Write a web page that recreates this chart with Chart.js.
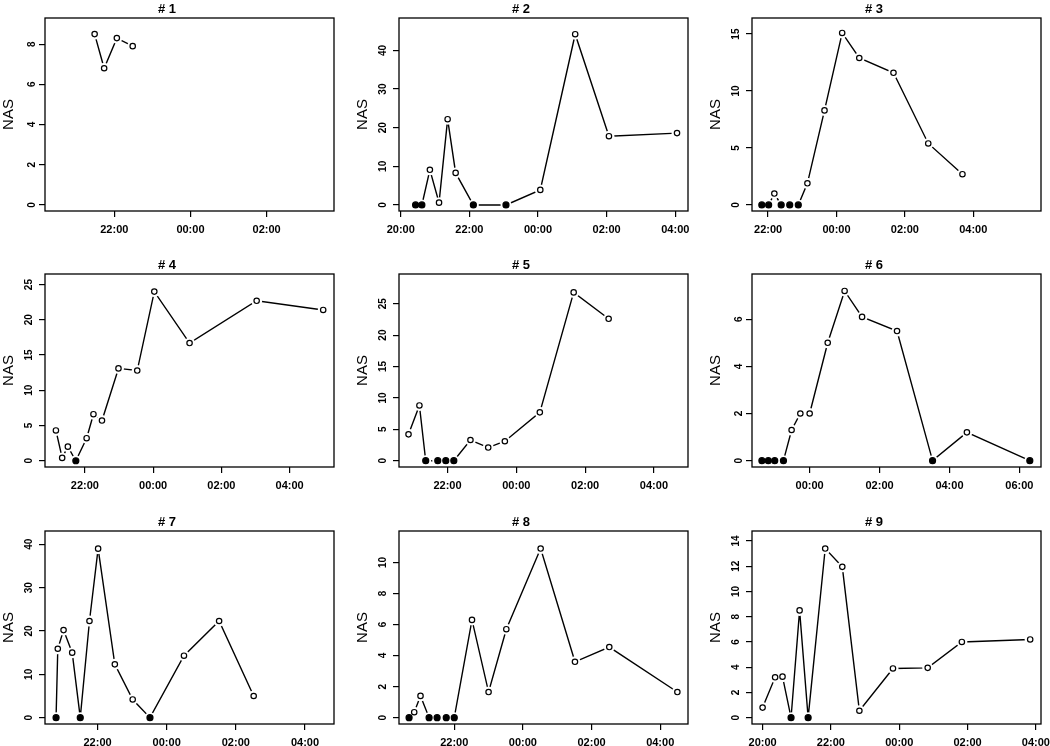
<!DOCTYPE html>
<html>
<head>
<meta charset="utf-8">
<script src="https://cdn.jsdelivr.net/npm/chart.js@4.4.1/dist/chart.umd.min.js"></script>
<style>
  body { margin: 0; background: #fff; overflow: hidden; }
  #wrap { position: relative; width: 1050px; height: 746px; }
  #wrap canvas { position: absolute; }
</style>
</head>
<body>
<div id="wrap"></div>
<script>
// sampling times (HH:MM, after midnight = next day) and NAS values per subject
const p1Time = ['21:29', '21:44', '22:04', '22:29'];
const p1Nas = [8.5, 6.8, 8.3, 7.9];

const p2Time = ['20:26', '20:37', '20:51', '21:07', '21:22', '21:36', '22:07', '23:04', '00:04', '01:05', '02:04', '04:03'];
const p2Nas = [0, 0, 9.1, 0.6, 22.2, 8.3, 0, 0, 3.9, 44.2, 17.8, 18.6];

const p3Time = ['21:49', '22:01', '22:11', '22:23', '22:38', '22:53', '23:09', '23:39', '00:10', '00:40', '01:40', '02:41', '03:41'];
const p3Nas = [0, 0, 1.0, 0, 0, 0, 1.9, 8.3, 15.1, 12.9, 11.6, 5.4, 2.7];

const p4Time = ['21:09', '21:20', '21:30', '21:44', '22:03', '22:15', '22:30', '22:59', '23:32', '00:02', '01:04', '03:02', '04:59'];
const p4Nas = [4.3, 0.4, 2.0, 0, 3.2, 6.6, 5.7, 13.1, 12.8, 24.0, 16.7, 22.7, 21.4];

const p5Time = ['20:52', '21:11', '21:22', '21:43', '21:57', '22:11', '22:40', '23:11', '23:40', '00:41', '01:40', '02:41'];
const p5Nas = [4.2, 8.8, 0, 0, 0, 0, 3.3, 2.1, 3.1, 7.7, 26.8, 22.6];

const p6Time = ['22:38', '22:49', '23:00', '23:15', '23:29', '23:44', '00:00', '00:31', '01:00', '01:30', '02:30', '03:31', '04:30', '06:18'];
const p6Nas = [0, 0, 0, 0, 1.3, 2.0, 2.0, 5.0, 7.2, 6.1, 5.5, 0, 1.2, 0];

const p7Time = ['20:48', '20:51', '21:01', '21:16', '21:30', '21:46', '22:01', '22:30', '23:01', '23:31', '00:30', '01:31', '02:31'];
const p7Nas = [0, 15.9, 20.2, 15.0, 0, 22.3, 39.0, 12.3, 4.2, 0, 14.3, 22.3, 5.0];

const p8Time = ['20:41', '20:50', '21:01', '21:16', '21:30', '21:46', '22:00', '22:31', '23:00', '23:31', '00:31', '01:31', '02:31', '04:30'];
const p8Nas = [0, 0.35, 1.4, 0, 0, 0, 0, 6.3, 1.65, 5.7, 10.9, 3.6, 4.55, 1.65];

const p9Time = ['20:00', '20:22', '20:35', '20:50', '21:05', '21:20', '21:50', '22:20', '22:50', '23:49', '00:50', '01:50', '03:50'];
const p9Nas = [0.8, 3.2, 3.25, 0, 8.5, 0, 13.4, 11.95, 0.55, 3.9, 3.95, 6.0, 6.2];

// tick labels
const xTicksA = ['22:00', '00:00', '02:00'];
const xTicksB = ['20:00', '22:00', '00:00', '02:00', '04:00'];
const xTicksC = ['22:00', '00:00', '02:00', '04:00'];
const xTicksD = ['00:00', '02:00', '04:00', '06:00'];
const p1YTicks = [0, 2, 4, 6, 8];
const p2YTicks = [0, 10, 20, 30, 40];
const p3YTicks = [0, 5, 10, 15];
const p4YTicks = [0, 5, 10, 15, 20, 25];
const p6YTicks = [0, 2, 4, 6];
const p8YTicks = [0, 2, 4, 6, 8, 10];
const p9YTicks = [0, 2, 4, 6, 8, 10, 12, 14];

function toHours(s) {
    const [h, m] = s.split(':').map(Number);
    let v = h + m / 60;
    if (h < 12) v += 24;
    return v;
}

function fmtHour(v) {
    const h = Math.round(v) % 24;
    return String(h).padStart(2, '0') + ':00';
}

const panels = [
    { title: '# 1', time: p1Time, nas: p1Nas, xt: xTicksA, yt: p1YTicks, x: [20.18, 27.77], y: [-0.30, 9.30] },
    { title: '# 2', time: p2Time, nas: p2Nas, xt: xTicksB, yt: p2YTicks, x: [19.95, 28.37], y: [-1.56, 48.4] },
    { title: '# 3', time: p3Time, nas: p3Nas, xt: xTicksC, yt: p3YTicks, x: [21.53, 29.98], y: [-0.53, 16.41] },
    { title: '# 4', time: p4Time, nas: p4Nas, xt: xTicksC, yt: p4YTicks, x: [20.83, 29.30], y: [-0.89, 26.5] },
    { title: '# 5', time: p5Time, nas: p5Nas, xt: xTicksC, yt: p4YTicks, x: [20.59, 28.99], y: [-1.0, 29.73] },
    { title: '# 6', time: p6Time, nas: p6Nas, xt: xTicksD, yt: p6YTicks, x: [22.35, 30.62], y: [-0.27, 7.92] },
    { title: '# 7', time: p7Time, nas: p7Nas, xt: xTicksC, yt: p2YTicks, x: [20.48, 28.84], y: [-1.46, 43.07] },
    { title: '# 8', time: p8Time, nas: p8Nas, xt: xTicksC, yt: p8YTicks, x: [20.39, 28.81], y: [-0.41, 12.03] },
    { title: '# 9', time: p9Time, nas: p9Nas, xt: xTicksB, yt: p9YTicks, x: [19.69, 28.15], y: [-0.5, 14.79] }
];

// layout of the 3x3 grid (plot box positions)
const boxLeft = [45, 399, 752];
const boxTop = [18, 274, 531];
const AXW = 45, AXH = 32, TTL = 24, PADR = 12, BW = 289, BH = 193;
const FONT = "'Liberation Sans', Arial, sans-serif";

const boxPlugin = {
    id: 'box',
    afterDraw(chart) {
        const { ctx, chartArea: a } = chart;
        ctx.save();
        ctx.strokeStyle = '#000';
        ctx.lineWidth = 1.3;
        ctx.strokeRect(a.left, a.top, a.right - a.left, a.bottom - a.top);
        ctx.restore();
    }
};

const wrap = document.getElementById('wrap');

panels.forEach(function(p, i) {
    const col = i % 3, row = Math.floor(i / 3);
    const canvas = document.createElement('canvas');
    canvas.width = AXW + BW + PADR;
    canvas.height = TTL + BH + AXH;
    canvas.style.left = (boxLeft[col] - AXW) + 'px';
    canvas.style.top = (boxTop[row] - TTL) + 'px';
    wrap.appendChild(canvas);

    const pts = p.time.map((t, k) => ({ x: toHours(t), y: p.nas[k] }));
    const xVals = p.xt.map(toHours);

    new Chart(canvas.getContext('2d'), {
        type: 'line',
        data: {
            datasets: [
                { data: pts, borderColor: '#000', borderWidth: 1.4, pointRadius: 0, fill: false, order: 3 },
                // white halo so the lines stop short of the markers, like R's type = "b"
                { data: pts, showLine: false, pointRadius: 5.5, pointBorderWidth: 0, pointBorderColor: '#fff', pointBackgroundColor: '#fff', order: 2 },
                {
                    data: pts, showLine: false,
                    pointRadius: p.nas.map(v => v === 0 ? 3 : 2.7),
                    pointBorderWidth: 1.2, pointBorderColor: '#000',
                    pointBackgroundColor: p.nas.map(v => v === 0 ? '#000' : '#fff'),
                    order: 1
                }
            ]
        },
        options: {
            responsive: false,
            animation: false,
            devicePixelRatio: 1,
            events: [],
            layout: { padding: { left: 0, right: PADR, top: 0, bottom: 0 } },
            plugins: {
                legend: { display: false },
                tooltip: { enabled: false },
                title: {
                    display: true, text: p.title, color: '#000',
                    font: { family: FONT, size: 13, weight: 'bold' },
                    padding: { top: 8, bottom: 0.4 }
                }
            },
            scales: {
                x: {
                    type: 'linear', min: p.x[0], max: p.x[1], bounds: 'data',
                    afterBuildTicks: s => { s.ticks = xVals.map(v => ({ value: v })); },
                    afterFit: s => { s.height = AXH; s.paddingLeft = 0; s.paddingRight = 0; },
                    border: { display: false },
                    grid: { drawOnChartArea: false, drawTicks: true, tickLength: 6, color: '#000', lineWidth: 1.2 },
                    ticks: {
                        callback: v => fmtHour(v), color: '#000', padding: 6,
                        maxRotation: 0, autoSkip: false,
                        font: { family: FONT, size: 11, weight: 'bold' }
                    }
                },
                y: {
                    type: 'linear', min: p.y[0], max: p.y[1], bounds: 'data',
                    afterBuildTicks: s => { s.ticks = p.yt.map(v => ({ value: v })); },
                    afterFit: s => { s.width = AXW; s.paddingTop = 0; s.paddingBottom = 0; },
                    border: { display: false },
                    grid: { drawOnChartArea: false, drawTicks: true, tickLength: 6, color: '#000', lineWidth: 1.2 },
                    title: { display: true, text: 'NAS', color: '#000', padding: 0, font: { family: FONT, size: 15 } },
                    ticks: {
                        color: '#000', padding: 4, minRotation: 90, maxRotation: 90,
                        crossAlign: 'center', autoSkip: false,
                        font: { family: FONT, size: 10, weight: 'bold' }
                    }
                }
            }
        },
        plugins: [boxPlugin]
    });
});
</script>
</body>
</html>
